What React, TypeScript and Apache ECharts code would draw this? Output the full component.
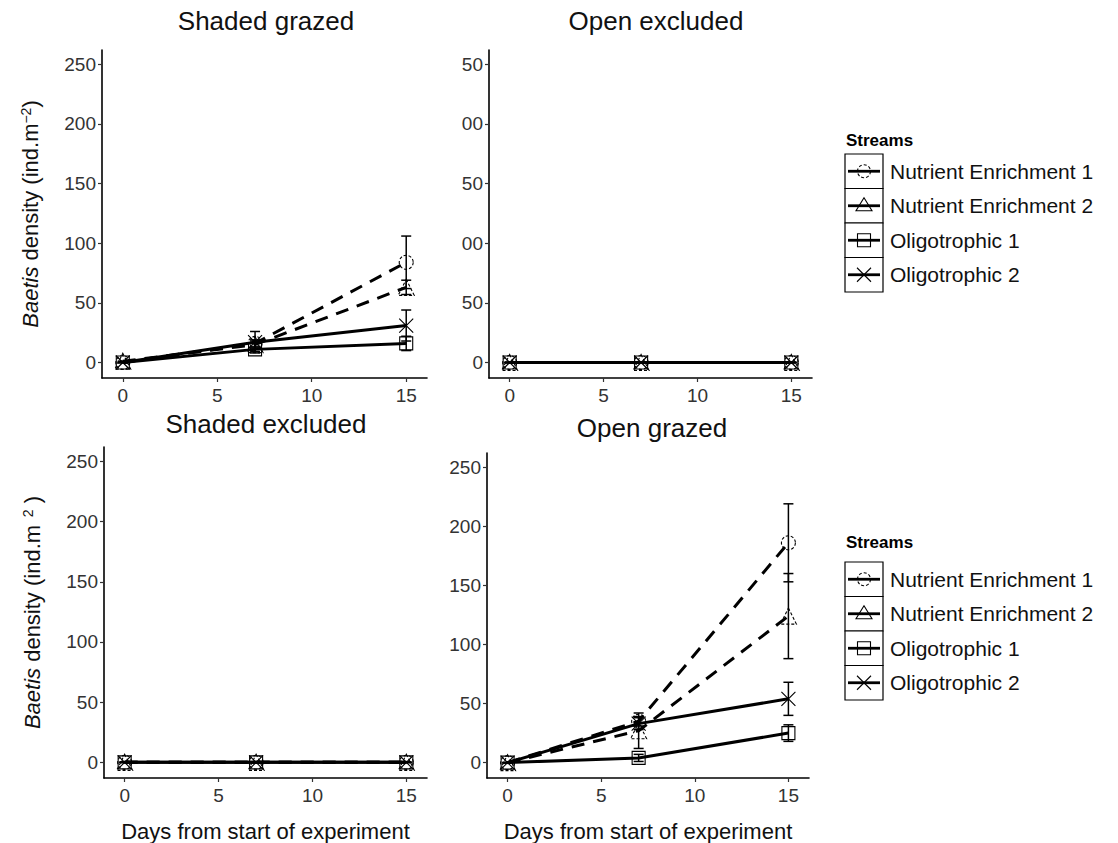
import React, { useEffect, useRef } from 'react';
import * as echarts from 'echarts';

const days = [0, 7, 15];
const streams = ['Nutrient Enrichment 1', 'Nutrient Enrichment 2', 'Oligotrophic 1', 'Oligotrophic 2'];
const panelTitles = ['Shaded grazed', 'Open excluded', 'Shaded excluded', 'Open grazed'];
const xTicks = [0, 5, 10, 15];
const yTicks = [0, 50, 100, 150, 200, 250];
const openExcludedTickLabels = ['0', '50', '00', '50', '00', '50'];
const legendTitle = 'Streams';
const xAxisTitle = 'Days from start of experiment';

// Shaded grazed
const sgNE1 = [0, 16, 84];
const sgNE1Err = [0, 3, 22];
const sgNE2 = [1, 15, 63];
const sgNE2Err = [0, 3, 6];
const sgO1 = [0, 11, 16];
const sgO1Err = [0, 2, 6];
const sgO2 = [0, 17, 31];
const sgO2Err = [0, 9, 13];

// Open excluded
const oeNE1 = [0, 0, 0];
const oeNE1Err = [0, 0, 0];
const oeNE2 = [0, 0, 0];
const oeNE2Err = [0, 0, 0];
const oeO1 = [0, 0, 0];
const oeO1Err = [0, 0, 0];
const oeO2 = [0, 0, 0];
const oeO2Err = [0, 0, 0];

// Shaded excluded
const seNE1 = [0, 0, 0];
const seNE1Err = [0, 0, 0];
const seNE2 = [0, 0, 0];
const seNE2Err = [0, 0, 0];
const seO1 = [0, 0, 0];
const seO1Err = [0, 0, 0];
const seO2 = [0, 0, 0];
const seO2Err = [0, 0, 0];

// Open grazed
const ogNE1 = [0, 35, 186];
const ogNE1Err = [0, 4, 33];
const ogNE2 = [0, 27, 124];
const ogNE2Err = [0, 15, 36];
const ogO1 = [0, 4, 25];
const ogO1Err = [0, 3, 7];
const ogO2 = [0, 33, 54];
const ogO2Err = [0, 5, 14];

const FONT = "'Liberation Sans', Arial, Helvetica, sans-serif";
const CROSS = 'path://M0 0L10 10M10 0L0 10';
const symbols = ['circle', 'triangle', 'rect', CROSS];
const symbolSizes = [14, 16, 13, 14];

const panels = [
  { means: [sgNE1, sgNE2, sgO1, sgO2], errs: [sgNE1Err, sgNE2Err, sgO1Err, sgO2Err] },
  { means: [oeNE1, oeNE2, oeO1, oeO2], errs: [oeNE1Err, oeNE2Err, oeO1Err, oeO2Err] },
  { means: [seNE1, seNE2, seO1, seO2], errs: [seNE1Err, seNE2Err, seO1Err, seO2Err] },
  { means: [ogNE1, ogNE2, ogO1, ogO2], errs: [ogNE1Err, ogNE2Err, ogO1Err, ogO2Err] },
];

const grids = [
  { left: 102, top: 50, width: 325, height: 328 },
  { left: 489, top: 50, width: 323, height: 328 },
  { left: 104, top: 447, width: 323, height: 334 },
  { left: 487, top: 453, width: 322, height: 329 },
];

const titlePos = [
  [266, 21],
  [656, 21],
  [266, 424],
  [652, 428],
];

function errRender(params: any, api: any) {
  const x = api.value(0);
  const y = api.value(1);
  const e = api.value(2);
  const top = api.coord([x, y + e]);
  const bot = api.coord([x, y - e]);
  const hw = 5;
  const st = { stroke: '#000', lineWidth: 1.5 };
  return {
    type: 'group',
    children: [
      { type: 'line', shape: { x1: top[0], y1: top[1], x2: bot[0], y2: bot[1] }, style: st },
      { type: 'line', shape: { x1: top[0] - hw, y1: top[1], x2: top[0] + hw, y2: top[1] }, style: st },
      { type: 'line', shape: { x1: bot[0] - hw, y1: bot[1], x2: bot[0] + hw, y2: bot[1] }, style: st },
    ],
  };
}

function legendGraphics(topY: number, titleY: number) {
  const els: any[] = [];
  const bx = 845;
  const bw = 38;
  const rh = 34.5;
  els.push({
    type: 'text',
    x: 846,
    y: titleY,
    style: { text: legendTitle, font: `bold 17px ${FONT}`, fill: '#000', verticalAlign: 'middle', textVerticalAlign: 'middle' },
  });
  streams.forEach((name, i) => {
    const y0 = topY + i * rh;
    const cy = y0 + rh / 2;
    const cx = bx + bw / 2;
    els.push({ type: 'rect', shape: { x: bx, y: y0, width: bw, height: rh }, style: { fill: '#fff', stroke: '#000', lineWidth: 1.2 } });
    els.push({ type: 'line', shape: { x1: bx + 3, y1: cy, x2: bx + bw - 3, y2: cy }, style: { stroke: '#000', lineWidth: 2.8 } });
    const sst: any = { fill: 'none', stroke: '#000', lineWidth: 1.1 };
    if (i === 0) {
      els.push({ type: 'circle', shape: { cx, cy, r: 6.5 }, style: { ...sst, lineDash: [3, 2] } });
    } else if (i === 1) {
      els.push({ type: 'polygon', shape: { points: [[cx, cy - 8], [cx - 8, cy + 5], [cx + 8, cy + 5]] }, style: { ...sst } });
    } else if (i === 2) {
      els.push({ type: 'rect', shape: { x: cx - 6.5, y: cy - 6.5, width: 13, height: 13 }, style: sst });
    } else {
      els.push({ type: 'line', shape: { x1: cx - 7, y1: cy - 7, x2: cx + 7, y2: cy + 7 }, style: sst });
      els.push({ type: 'line', shape: { x1: cx - 7, y1: cy + 7, x2: cx + 7, y2: cy - 7 }, style: sst });
    }
    els.push({
      type: 'text',
      x: 890,
      y: cy,
      style: { text: name, font: `21px ${FONT}`, fill: '#111', verticalAlign: 'middle', textVerticalAlign: 'middle' },
    });
  });
  return els;
}

function buildOption() {
  const axisCommon = {
    axisLine: { show: true, onZero: false, lineStyle: { color: '#000', width: 1.6 } },
    axisTick: { show: true, inside: false, length: 4, lineStyle: { color: '#333', width: 1.2 } },
    splitLine: { show: false },
  };
  const xAxes = grids.map((g, i) => ({
    type: 'value',
    gridIndex: i,
    min: -1.1,
    max: 16.1,
    ...axisCommon,
    axisTick: { ...axisCommon.axisTick, customValues: xTicks },
    axisLabel: { customValues: xTicks, color: '#333', fontSize: 19, fontFamily: FONT, margin: 8 },
    name: i >= 2 ? xAxisTitle : '',
    nameLocation: 'middle',
    nameGap: 42,
    nameTextStyle: { fontSize: 22, fontFamily: FONT, color: '#111' },
  }));
  const yNameRich = {
    i: { fontStyle: 'italic', fontSize: 22, fontFamily: FONT, color: '#111' },
    n: { fontSize: 22, fontFamily: FONT, color: '#111' },
    sup: { fontSize: 14, fontFamily: FONT, color: '#111', verticalAlign: 'top', lineHeight: 14 },
  };
  const yAxes = grids.map((g, i) => ({
    type: 'value',
    gridIndex: i,
    min: -13,
    max: 262,
    ...axisCommon,
    axisTick: { ...axisCommon.axisTick, customValues: yTicks },
    axisLabel: {
      customValues: yTicks,
      color: '#333',
      fontSize: 19,
      fontFamily: FONT,
      margin: 6,
      formatter: (v: number) => (i === 1 ? openExcludedTickLabels[yTicks.indexOf(v)] : String(v)),
    },
    name: i === 0 ? '{i|Baetis}{n| density (ind.m}{sup|−2}{n|)}' : i === 2 ? '{i|Baetis}{n| density (ind.m}{sup|  2}{n| )}' : '',
    nameLocation: 'middle',
    nameRotate: 90,
    nameGap: 61,
    nameTextStyle: { rich: yNameRich, fontSize: 22, fontFamily: FONT, color: '#111' },
  }));

  const series: any[] = [];
  panels.forEach((p, pi) => {
    p.means.forEach((m, si) => {
      series.push({
        type: 'line',
        name: streams[si],
        xAxisIndex: pi,
        yAxisIndex: pi,
        data: days.map((d, k) => [d, m[k]]),
        symbol: symbols[si],
        symbolSize: symbolSizes[si],
        showSymbol: true,
        showAllSymbol: true,
        lineStyle: { color: '#000', width: 3, type: si < 2 ? [13, 9] : 'solid' },
        itemStyle: {
          color: 'rgba(0,0,0,0)',
          borderColor: '#000',
          borderWidth: 1.1,
          borderType: si < 2 ? [3, 2] : 'solid',
        },
        emphasis: { disabled: true },
        z: 3,
      });
    });
    p.errs.forEach((e, si) => {
      series.push({
        type: 'custom',
        xAxisIndex: pi,
        yAxisIndex: pi,
        data: days.map((d, k) => [d, p.means[si][k], e[k]]),
        encode: { x: 0, y: 1 },
        renderItem: errRender,
        z: 4,
        silent: true,
      });
    });
  });

  const graphic: any[] = [];
  panelTitles.forEach((t, i) => {
    graphic.push({
      type: 'text',
      x: titlePos[i][0],
      y: titlePos[i][1],
      style: {
        text: t,
        font: `26px ${FONT}`,
        fill: '#111',
        align: 'center',
        verticalAlign: 'middle',
        textAlign: 'center',
        textVerticalAlign: 'middle',
      },
    });
  });
  graphic.push(...legendGraphics(154, 140));
  graphic.push(...legendGraphics(562, 542));

  return {
    animation: false,
    backgroundColor: '#fff',
    grid: grids.map((g) => ({ ...g, containLabel: false })),
    xAxis: xAxes,
    yAxis: yAxes,
    series,
    graphic,
  };
}

export default function App() {
  const ref = useRef<HTMLDivElement>(null);
  useEffect(() => {
    if (!ref.current) return;
    const chart = echarts.init(ref.current, undefined, { renderer: 'svg' });
    chart.setOption(buildOption() as any);
    return () => chart.dispose();
  }, []);
  return <div ref={ref} style={{ position: 'absolute', left: 0, top: 0, width: 1118, height: 843, background: '#fff' }} />;
}
